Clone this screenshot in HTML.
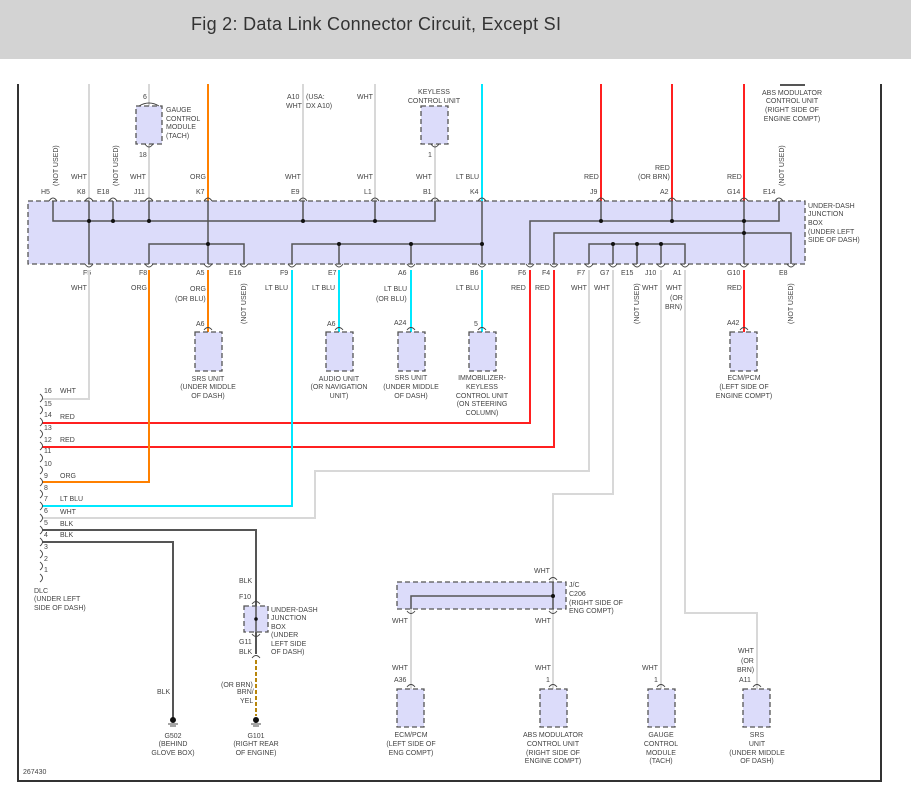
<!DOCTYPE html>
<html><head><meta charset="utf-8"><style>
html,body{margin:0;padding:0;background:#fff;}
svg{display:block;}
.t{font-family:"Liberation Sans",sans-serif;font-size:7px;fill:#444;}
.m{text-anchor:middle;}
.box{fill:#dcdcfa;stroke:#555;stroke-width:1.3;stroke-dasharray:5,3;}
.bus{fill:none;stroke:#555;stroke-width:1.5;}
.arc{fill:none;stroke:#444;stroke-width:0.9;}
.w{fill:none;stroke:#d8d8d8;stroke-width:2;}
.o{fill:none;stroke:#ff8000;stroke-width:2;}
.r{fill:none;stroke:#ff2020;stroke-width:2;}
.c{fill:none;stroke:#00e8ff;stroke-width:2;}
.k{fill:none;stroke:#555;stroke-width:2;}
</style></head><body>
<svg width="911" height="794" viewBox="0 0 911 794" xmlns="http://www.w3.org/2000/svg">
<rect x="0" y="0" width="911" height="59" fill="#d3d3d3"/>
<text x="191" y="30" font-family="Liberation Sans,sans-serif" font-size="18" fill="#333" textLength="370">Fig 2: Data Link Connector Circuit, Except SI</text>

<path d="M18 84 V781 H881 V84" fill="none" stroke="#333" stroke-width="2"/>

<path class="w" d="M89 84 V201"/>
<path class="w" d="M149 84 V106 M149 144 V201"/>
<path class="o" d="M208 84 V201"/>
<path class="w" d="M303 84 V201"/>
<path class="w" d="M375 84 V201"/>
<path class="w" d="M435 144 V201"/>
<path class="c" d="M482 84 V201"/>
<path class="r" d="M601 84 V201"/>
<path class="r" d="M672 84 V201"/>
<path class="r" d="M744 84 V201"/>

<rect class="box" x="136" y="106" width="26" height="38"/>
<rect class="box" x="421" y="106" width="27" height="38"/>
<text class="t" x="143" y="99">6</text>
<text class="t" x="139" y="157">18</text>
<text class="t" x="166" y="112">GAUGE</text>
<text class="t" x="166" y="121">CONTROL</text>
<text class="t" x="166" y="129">MODULE</text>
<text class="t" x="166" y="138">(TACH)</text>
<text class="t" x="286" y="108">WHT</text>
<text class="t" x="287" y="99">A10</text>
<text class="t" x="306" y="99">(USA:</text>
<text class="t" x="306" y="108">DX A10)</text>
<text class="t" x="357" y="99">WHT</text>
<text class="t m" x="434" y="94">KEYLESS</text>
<text class="t m" x="434" y="103">CONTROL UNIT</text>
<text class="t" x="428" y="157">1</text>
<rect x="780" y="84" width="25" height="2" fill="#555"/>
<text class="t m" x="792" y="95">ABS MODULATOR</text>
<text class="t m" x="792" y="103">CONTROL UNIT</text>
<text class="t m" x="792" y="112">(RIGHT SIDE OF</text>
<text class="t m" x="792" y="121">ENGINE COMPT)</text>

<rect class="box" x="28" y="201" width="777" height="63"/>
<text class="t" x="808" y="208">UNDER-DASH</text>
<text class="t" x="808" y="216">JUNCTION</text>
<text class="t" x="808" y="225">BOX</text>
<text class="t" x="808" y="234">(UNDER LEFT</text>
<text class="t" x="808" y="242">SIDE OF DASH)</text>

<path class="bus" d="M53 201 V221 H435 V201 M89 201 V264 M113 201 V221 M149 201 V221 M303 201 V221 M375 201 V221"/>
<path class="bus" d="M208 201 V264 M149 264 V244 H244 V264"/>
<path class="bus" d="M482 201 V264 M292 264 V244 H482 M339 244 V264 M411 244 V264"/>
<path class="bus" d="M530 264 V221 H779 V201 M601 201 V221 M672 201 V221 M744 201 V264"/>
<path class="bus" d="M554 264 V233 H791 V264"/>
<path class="bus" d="M589 264 V244 H685 V264 M613 244 V264 M637 244 V264 M661 244 V264"/>
<g fill="#111">
<circle cx="89" cy="221" r="2"/><circle cx="113" cy="221" r="2"/><circle cx="149" cy="221" r="2"/>
<circle cx="303" cy="221" r="2"/><circle cx="375" cy="221" r="2"/><circle cx="208" cy="244" r="2"/>
<circle cx="339" cy="244" r="2"/><circle cx="411" cy="244" r="2"/><circle cx="482" cy="244" r="2"/>
<circle cx="601" cy="221" r="2"/><circle cx="672" cy="221" r="2"/><circle cx="744" cy="221" r="2"/>
<circle cx="744" cy="233" r="2"/><circle cx="613" cy="244" r="2"/><circle cx="637" cy="244" r="2"/><circle cx="661" cy="244" r="2"/>
</g>
<g class="arc">
<path d="M49 201 Q53 195 57 201 M85 201 Q89 195 93 201 M109 201 Q113 195 117 201 M145 201 Q149 195 153 201 M204 201 Q208 195 212 201 M299 201 Q303 195 307 201 M371 201 Q375 195 379 201 M431 201 Q435 195 439 201 M478 201 Q482 195 486 201 M597 201 Q601 195 605 201 M668 201 Q672 195 676 201 M740 201 Q744 195 748 201 M775 201 Q779 195 783 201"/>
<path d="M85 264 Q89 270 93 264 M145 264 Q149 270 153 264 M204 264 Q208 270 212 264 M240 264 Q244 270 248 264 M288 264 Q292 270 296 264 M335 264 Q339 270 343 264 M407 264 Q411 270 415 264 M478 264 Q482 270 486 264 M526 264 Q530 270 534 264 M550 264 Q554 270 558 264 M585 264 Q589 270 593 264 M609 264 Q613 270 617 264 M633 264 Q637 270 641 264 M657 264 Q661 270 665 264 M681 264 Q685 270 689 264 M740 264 Q744 270 748 264 M787 264 Q791 270 795 264"/>
<path d="M139 106 Q149 100 159 106 M145 144 Q149 150 153 144 M431 144 Q435 150 439 144"/>
</g>
<g class="t">
<text x="71" y="179">WHT</text><text x="130" y="179">WHT</text><text x="190" y="179">ORG</text>
<text x="285" y="179">WHT</text><text x="357" y="179">WHT</text><text x="416" y="179">WHT</text>
<text x="456" y="179">LT BLU</text><text x="584" y="179">RED</text><text x="655" y="170">RED</text>
<text x="638" y="179">(OR BRN)</text><text x="727" y="179">RED</text>
<text x="41" y="194">H5</text><text x="77" y="194">K8</text><text x="97" y="194">E18</text>
<text x="134" y="194">J11</text><text x="196" y="194">K7</text><text x="291" y="194">E9</text>
<text x="364" y="194">L1</text><text x="423" y="194">B1</text><text x="470" y="194">K4</text>
<text x="590" y="194">J9</text><text x="660" y="194">A2</text><text x="727" y="194">G14</text><text x="763" y="194">E14</text>
<text transform="translate(58,186) rotate(-90)">(NOT USED)</text>
<text transform="translate(118,186) rotate(-90)">(NOT USED)</text>
<text transform="translate(784,186) rotate(-90)">(NOT USED)</text>
<text x="83" y="275">F5</text><text x="139" y="275">F8</text><text x="196" y="275">A5</text>
<text x="229" y="275">E16</text><text x="280" y="275">F9</text><text x="328" y="275">E7</text>
<text x="398" y="275">A6</text><text x="470" y="275">B6</text><text x="518" y="275">F6</text>
<text x="542" y="275">F4</text><text x="577" y="275">F7</text><text x="600" y="275">G7</text>
<text x="621" y="275">E15</text><text x="645" y="275">J10</text><text x="673" y="275">A1</text>
<text x="727" y="275">G10</text><text x="779" y="275">E8</text>
<text x="71" y="290">WHT</text><text x="131" y="290">ORG</text><text x="190" y="291">ORG</text>
<text x="175" y="301">(OR BLU)</text><text x="265" y="290">LT BLU</text><text x="312" y="290">LT BLU</text>
<text x="384" y="291">LT BLU</text><text x="376" y="301">(OR BLU)</text><text x="456" y="290">LT BLU</text>
<text x="511" y="290">RED</text><text x="535" y="290">RED</text><text x="571" y="290">WHT</text>
<text x="594" y="290">WHT</text><text x="642" y="290">WHT</text><text x="666" y="290">WHT</text>
<text x="670" y="300">(OR</text><text x="665" y="309">BRN)</text><text x="727" y="290">RED</text>
<text transform="translate(246,324) rotate(-90)">(NOT USED)</text>
<text transform="translate(639,324) rotate(-90)">(NOT USED)</text>
<text transform="translate(793,324) rotate(-90)">(NOT USED)</text>
</g>

<path class="w" d="M89 270 V399 H42"/>
<path class="o" d="M208 270 V332"/>
<path class="c" d="M339 270 V332"/>
<path class="c" d="M411 270 V332"/>
<path class="c" d="M482 270 V332"/>
<path class="r" d="M744 270 V332"/>
<path class="r" d="M530 270 V423 H42"/>
<path class="r" d="M554 270 V447 H42"/>
<path class="o" d="M149 270 V482 H42"/>
<path class="c" d="M292 270 V506 H42"/>
<path class="w" d="M589 270 V471 H315 V518 H42"/>
<path class="w" d="M613 270 V494 H553 V582"/>
<path class="w" d="M661 270 V689"/>
<path class="w" d="M685 270 V613 H757 V689"/>
<path class="k" d="M42 530 H256 V606"/>
<path class="k" d="M42 542 H173 V718"/>
<path class="k" d="M256 632 V654"/>
<path d="M256 660 V716" stroke="#b8860b" stroke-width="2" stroke-dasharray="4,2" fill="none"/>
<path class="w" d="M411 609 V689"/>
<path class="w" d="M553 609 V689"/>

<rect class="box" x="195" y="332" width="27" height="39"/>
<rect class="box" x="326" y="332" width="27" height="39"/>
<rect class="box" x="398" y="332" width="27" height="39"/>
<rect class="box" x="469" y="332" width="27" height="39"/>
<rect class="box" x="730" y="332" width="27" height="39"/>
<g class="arc">
<path d="M204 330 Q208 325 212 330 M335 330 Q339 325 343 330 M407 330 Q411 325 415 330 M478 330 Q482 325 486 330 M740 330 Q744 325 748 330"/>
<path d="M407 687 Q411 682 415 687 M549 687 Q553 682 557 687 M657 687 Q661 682 665 687 M753 687 Q757 682 761 687 M549 580 Q553 575 557 580 M407 611 Q411 616 415 611 M549 611 Q553 616 557 611 M252 604 Q256 599 260 604 M252 634 Q256 639 260 634 M252 658 Q256 653 260 658"/>
</g>
<g class="t">
<text x="196" y="326">A6</text><text x="327" y="326">A6</text><text x="394" y="325">A24</text>
<text x="474" y="326">5</text><text x="727" y="325">A42</text>
<text class="m" x="208" y="381">SRS UNIT</text><text class="m" x="208" y="389">(UNDER MIDDLE</text><text class="m" x="208" y="398">OF DASH)</text>
<text class="m" x="339" y="381">AUDIO UNIT</text><text class="m" x="339" y="389">(OR NAVIGATION</text><text class="m" x="339" y="398">UNIT)</text>
<text class="m" x="411" y="380">SRS UNIT</text><text class="m" x="411" y="389">(UNDER MIDDLE</text><text class="m" x="411" y="398">OF DASH)</text>
<text class="m" x="482" y="380">IMMOBILIZER-</text><text class="m" x="482" y="389">KEYLESS</text><text class="m" x="482" y="398">CONTROL UNIT</text><text class="m" x="482" y="406">(ON STEERING</text><text class="m" x="482" y="415">COLUMN)</text>
<text class="m" x="744" y="380">ECM/PCM</text><text class="m" x="744" y="389">(LEFT SIDE OF</text><text class="m" x="744" y="398">ENGINE COMPT)</text>
</g>

<g class="arc">
<path d="M40 394 Q45 398 40 402 M40 406 Q45 410 40 414 M40 418 Q45 422 40 426 M40 430 Q45 434 40 438 M40 442 Q45 446 40 450 M40 454 Q45 458 40 462 M40 466 Q45 470 40 474 M40 478 Q45 482 40 486 M40 490 Q45 494 40 498 M40 502 Q45 506 40 510 M40 514 Q45 518 40 522 M40 526 Q45 530 40 534 M40 538 Q45 542 40 546 M40 550 Q45 554 40 558 M40 562 Q45 566 40 570 M40 574 Q45 578 40 582"/>
</g>
<g class="t">
<text x="44" y="393">16</text><text x="60" y="393">WHT</text>
<text x="44" y="406">15</text><text x="44" y="417">14</text><text x="60" y="419">RED</text>
<text x="44" y="430">13</text><text x="44" y="442">12</text><text x="60" y="442">RED</text>
<text x="44" y="453">11</text><text x="44" y="466">10</text><text x="44" y="478">9</text><text x="60" y="478">ORG</text>
<text x="44" y="490">8</text><text x="44" y="501">7</text><text x="60" y="501">LT BLU</text>
<text x="44" y="513">6</text><text x="60" y="514">WHT</text><text x="44" y="525">5</text><text x="60" y="526">BLK</text>
<text x="44" y="537">4</text><text x="60" y="537">BLK</text><text x="44" y="549">3</text>
<text x="44" y="561">2</text><text x="44" y="572">1</text>
<text x="34" y="593">DLC</text><text x="34" y="601">(UNDER LEFT</text><text x="34" y="610">SIDE OF DASH)</text>
<text x="23" y="774">267430</text>
</g>

<rect class="box" x="244" y="606" width="24" height="26"/>
<path class="bus" d="M256 606 V632"/><circle cx="256" cy="619" r="1.8" fill="#111"/>
<g class="t">
<text x="239" y="583">BLK</text><text x="239" y="599">F10</text>
<text x="271" y="612">UNDER-DASH</text><text x="271" y="620">JUNCTION</text><text x="271" y="629">BOX</text>
<text x="271" y="637">(UNDER</text><text x="271" y="646">LEFT SIDE</text><text x="271" y="654">OF DASH)</text>
<text x="239" y="644">G11</text><text x="239" y="654">BLK</text>
<text x="221" y="687">(OR BRN)</text><text x="237" y="694">BRN/</text><text x="240" y="703">YEL</text>
<text x="157" y="694">BLK</text>
<text class="m" x="173" y="738">G502</text><text class="m" x="173" y="746">(BEHIND</text><text class="m" x="173" y="755">GLOVE BOX)</text>
<text class="m" x="256" y="738">G101</text><text class="m" x="256" y="746">(RIGHT REAR</text><text class="m" x="256" y="755">OF ENGINE)</text>
</g>
<g fill="#111" stroke="#111">
<circle cx="173" cy="720" r="2.5"/><path d="M168 724 H178 M170 726 H176" stroke-width="0.8"/>
<circle cx="256" cy="720" r="2.5"/><path d="M251 724 H261 M253 726 H259" stroke-width="0.8"/>
</g>

<rect class="box" x="397" y="582" width="169" height="27"/>
<path class="bus" d="M553 582 V609 M553 596 H411 V609"/>
<circle cx="553" cy="596" r="2" fill="#111"/>
<g class="t">
<text x="534" y="573">WHT</text>
<text x="569" y="587">J/C</text><text x="569" y="596">C206</text><text x="569" y="605">(RIGHT SIDE OF</text><text x="569" y="613">ENG COMPT)</text>
<text x="392" y="623">WHT</text><text x="535" y="623">WHT</text>
</g>

<rect class="box" x="397" y="689" width="27" height="38"/>
<rect class="box" x="540" y="689" width="27" height="38"/>
<rect class="box" x="648" y="689" width="27" height="38"/>
<rect class="box" x="743" y="689" width="27" height="38"/>
<g class="t">
<text x="392" y="670">WHT</text><text x="394" y="682">A36</text>
<text x="535" y="670">WHT</text><text x="546" y="682">1</text>
<text x="642" y="670">WHT</text><text x="654" y="682">1</text>
<text x="738" y="653">WHT</text><text x="741" y="663">(OR</text><text x="737" y="672">BRN)</text><text x="739" y="682">A11</text>
<text class="m" x="411" y="737">ECM/PCM</text><text class="m" x="411" y="746">(LEFT SIDE OF</text><text class="m" x="411" y="755">ENG COMPT)</text>
<text class="m" x="553" y="737">ABS MODULATOR</text><text class="m" x="553" y="746">CONTROL UNIT</text><text class="m" x="553" y="755">(RIGHT SIDE OF</text><text class="m" x="553" y="763">ENGINE COMPT)</text>
<text class="m" x="661" y="737">GAUGE</text><text class="m" x="661" y="746">CONTROL</text><text class="m" x="661" y="755">MODULE</text><text class="m" x="661" y="763">(TACH)</text>
<text class="m" x="757" y="737">SRS</text><text class="m" x="757" y="746">UNIT</text><text class="m" x="757" y="755">(UNDER MIDDLE</text><text class="m" x="757" y="763">OF DASH)</text>
</g>
</svg>
</body></html>
